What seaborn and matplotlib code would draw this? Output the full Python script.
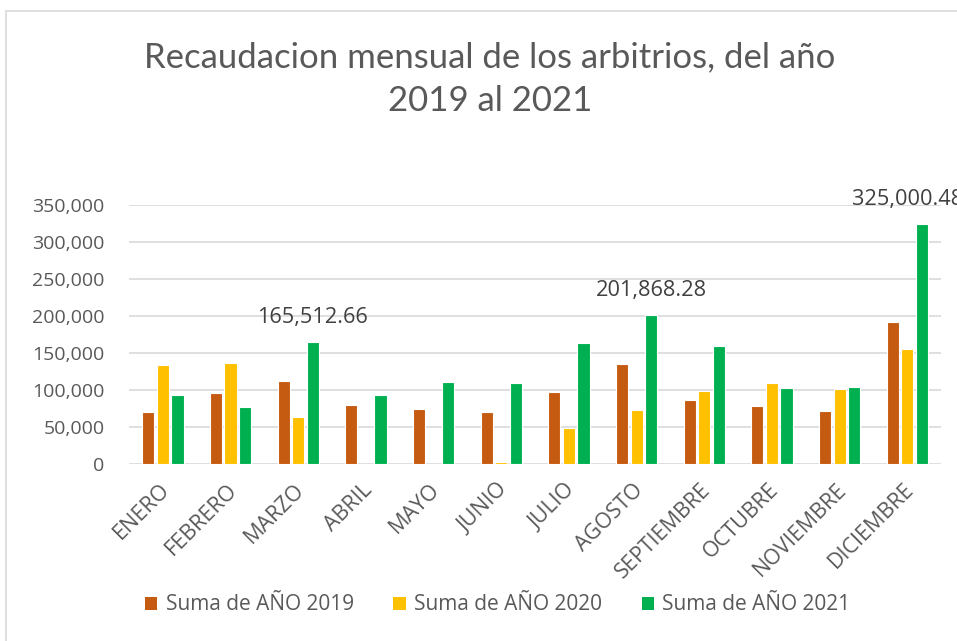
import matplotlib
matplotlib.use("Agg")
import matplotlib.pyplot as plt
from matplotlib.patches import Patch
from matplotlib.lines import Line2D
from matplotlib.transforms import ScaledTranslation
import seaborn as sns
import pandas as pd
import numpy as np

meses = ['ENERO', 'FEBRERO', 'MARZO', 'ABRIL', 'MAYO', 'JUNIO', 'JULIO',
         'AGOSTO', 'SEPTIEMBRE', 'OCTUBRE', 'NOVIEMBRE', 'DICIEMBRE']
series = ['Suma de AÑO 2019', 'Suma de AÑO 2020', 'Suma de AÑO 2021']
anio_2019 = [69800, 95900, 111600, 79700, 74300, 70700, 97700, 135000, 86400, 78300, 71600, 192200]
anio_2020 = [134100, 136800, 63500, 0, 0, 3200, 49100, 72900, 98100, 108900, 100800, 155700]
anio_2021 = [93600, 77000, 165512.66, 93600, 110300, 109400, 163800, 201868.28, 159300, 102200, 104400, 325000.48]
etiquetados = ['MARZO', 'AGOSTO', 'DICIEMBRE']
colores = ['#C55A11', '#FFC000', '#00B050']

df = pd.DataFrame({
    'mes': meses * 3,
    'serie': np.repeat(series, len(meses)),
    'valor': anio_2019 + anio_2020 + anio_2021,
})

sns.set_style('white')
plt.rcParams['font.family'] = ['Open Sans', 'DejaVu Sans']
gris = '#595959'

fig = plt.figure(figsize=(9.57, 6.41), dpi=100)
ax = fig.add_axes([0.1348, 0.2761, 0.8485, 0.4039])

sns.barplot(data=df, x='mes', y='valor', hue='serie', palette=colores,
            saturation=1, width=0.65, gap=0.18, edgecolor='white', linewidth=0.8,
            legend=False, ax=ax)

ax.set_ylim(0, 350000)
ax.set_xlim(-0.5, len(meses) - 0.5)
ax.set_yticks(range(0, 350001, 50000))
ax.set_yticklabels([f'{v:,}' for v in range(0, 350001, 50000)])
ax.yaxis.grid(True, color='#D9D9D9', linewidth=1.2)
ax.set_axisbelow(True)
for s in ax.spines.values():
    s.set_visible(False)
ax.set_xlabel('')
ax.set_ylabel('')
ax.tick_params(axis='y', labelsize=14, colors=gris, length=0, pad=17.5)
ax.tick_params(axis='x', labelsize=15.5, colors=gris, length=0, pad=11)
desplaza = ScaledTranslation(-4 / 100, 0, fig.dpi_scale_trans)
for lbl in ax.get_xticklabels():
    lbl.set_rotation(45)
    lbl.set_ha('right')
    lbl.set_va('top')
    lbl.set_rotation_mode('anchor')
    lbl.set_transform(lbl.get_transform() + desplaza)

# etiquetas de datos solo en algunos meses de 2021
cont = ax.containers[2]
textos = [f'{v:,.2f}' if m in etiquetados else '' for m, v in zip(meses, anio_2021)]
etiquetas = ax.bar_label(cont, labels=textos, padding=10, fontsize=15.7, color='#404040')
for t in etiquetas:
    t.set_clip_on(False)
# Excel empuja la ultima etiqueta hacia dentro del area del grafico
ultima = etiquetas[-1]
ultima.xyann = (ultima.xyann[0] - 10, ultima.xyann[1])

fig.text(0.512, 1 - 57 / 641, 'Recaudacion mensual de los arbitrios, del año',
         ha='center', va='center', fontsize=25, color=gris,
         family=['Liberation Sans Narrow', 'Lato', 'DejaVu Sans'])
fig.text(0.512, 1 - 101 / 641, '2019 al 2021',
         ha='center', va='center', fontsize=25, color=gris,
         family=['Liberation Sans Narrow', 'Lato', 'DejaVu Sans'])

handles = [Patch(facecolor=c, edgecolor='none') for c in colores]
fig.legend(handles, series, loc='center', bbox_to_anchor=(0.52, 1 - 605 / 641),
           ncol=3, frameon=False, fontsize=15, labelcolor=gris,
           handlelength=0.6, handleheight=0.6, handletextpad=0.4, columnspacing=1.9)

# borde del area del grafico
fig.add_artist(Line2D([6 / 957, 6 / 957], [0, 1 - 11 / 641], color='#D9D9D9', lw=1.2))
fig.add_artist(Line2D([6 / 957, 1], [1 - 11 / 641, 1 - 11 / 641], color='#D9D9D9', lw=1.2))

fig.savefig('out.png', dpi=100)
